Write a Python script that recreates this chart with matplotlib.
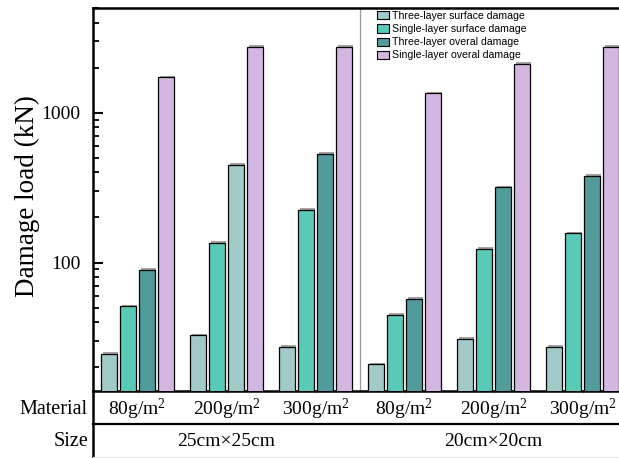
import matplotlib
matplotlib.use("Agg")
import matplotlib.pyplot as plt
import matplotlib.transforms as mtransforms
import matplotlib.patheffects as pe
from matplotlib.patches import Patch
from matplotlib.ticker import LogLocator, NullFormatter, FixedLocator, FixedFormatter
import numpy as np

plt.rcParams["font.family"] = "Liberation Serif"
plt.rcParams["mathtext.fontset"] = "custom"
plt.rcParams["mathtext.rm"] = "Liberation Serif"
plt.rcParams["mathtext.it"] = "Liberation Serif:italic"

# data
materials = ["80g/m$^2$", "200g/m$^2$", "300g/m$^2$", "80g/m$^2$", "200g/m$^2$", "300g/m$^2$"]
sizes = ["25cm×25cm", "20cm×20cm"]
series_names = [
    "Three-layer surface damage",
    "Single-layer surface damage",
    "Three-layer overal damage",
    "Single-layer overal damage",
]
three_surface = [24.7, 32.7, 27.5, 21.0, 31.1, 27.4]
single_surface = [51.4, 136, 226, 44.8, 124, 157]
three_overall = [89.8, 450, 533, 57.5, 319, 380]
single_overall = [1726, 2767, 2767, 1352, 2122, 2767]

# styling
colors = ["#A0C9C7", "#59CAB8", "#519B9C", "#D3B6E1"]
color_override = {(2, 1): "#A0C9C7"}  # (series, group)
bar_w = 0.17
step = 0.2135

fig = plt.figure(figsize=(6.19, 4.58), dpi=100)
W, H = 619, 458
ax = fig.add_axes([93 / W, (H - 391) / H, (627 - 93) / W, (391 - 8) / H])

series = [three_surface, single_surface, three_overall, single_overall]
x = np.arange(len(materials))
shadow = [pe.SimplePatchShadow(offset=(1, 1), shadow_rgbFace="#666666", alpha=0.6), pe.Normal()]
for si, vals in enumerate(series):
    offs = (si - 1.5) * step
    cols = [color_override.get((si, gi), colors[si]) for gi in range(len(vals))]
    bars = ax.bar(x + offs, vals, width=bar_w, color=cols, edgecolor="black",
                  linewidth=0.9, zorder=3)
    for b in bars:
        b.set_path_effects(shadow)

ax.set_yscale("log")
ax.set_ylim(13.9, 5000)
ax.set_xlim(-0.5, 5.5)

ax.yaxis.set_major_locator(FixedLocator([100, 1000]))
ax.yaxis.set_major_formatter(FixedFormatter(["100", "1000"]))
ax.yaxis.set_minor_locator(LogLocator(base=10, subs=np.arange(2, 10)))
ax.yaxis.set_minor_formatter(NullFormatter())
ax.tick_params(axis="y", which="major", direction="in", length=7, width=1.5, labelsize=14, pad=9)
ax.tick_params(axis="y", which="minor", direction="in", length=4, width=1.3)
ax.set_xticks(x)
ax.set_xticklabels([])
ax.tick_params(axis="x", which="major", direction="out", length=1.5, width=0.6, color="#aaaaaa")

for s in ["left", "bottom", "top"]:
    ax.spines[s].set_linewidth(1.8)
ax.spines["right"].set_visible(False)

# divider between the two size groups
ax.axvline(2.5, color="#999999", linewidth=0.9, zorder=2)

# y label
fig.text(27 / W, (H - 196) / H, "Damage load (kN)", rotation=90, ha="center", va="center", fontsize=19.5)

# table rows below the axis
trans = mtransforms.blended_transform_factory(ax.transData, fig.transFigure)
y_mat = (H - 409) / H
y_size = (H - 442) / H
for gi, lab in enumerate(materials):
    ax.text(gi, y_mat, lab, transform=trans, ha="center", va="center", fontsize=14, clip_on=False)
for k, lab in enumerate(sizes):
    ax.text(1 + 3 * k, y_size, lab, transform=trans, ha="center", va="center", fontsize=14, clip_on=False)
fig.text(88 / W, y_mat, "Material", ha="right", va="center", fontsize=14.5)
fig.text(88 / W, y_size, "Size", ha="right", va="center", fontsize=14.5)

fig.add_artist(plt.Line2D([93 / W, 1.0], [(H - 424) / H] * 2, color="black", linewidth=1.6))
fig.add_artist(plt.Line2D([93 / W, 93 / W], [0, (H - 391) / H], color="black", linewidth=1.8))
fig.add_artist(plt.Line2D([93 / W, 1.0], [(H - 456.5) / H] * 2, color="#e6e6e6", linewidth=0.8))

# legend
handles = [Patch(facecolor=c, edgecolor="black", linewidth=0.8) for c in colors]
fig.legend(handles, series_names, loc="upper left", bbox_to_anchor=(377 / W, (H - 11) / H),
           frameon=False, prop={"family": "Liberation Sans", "size": 7.6},
           handlelength=1.1, handleheight=0.8, labelspacing=0.3, handletextpad=0.35,
           borderpad=0, borderaxespad=0)

fig.savefig("out.png", dpi=100)
